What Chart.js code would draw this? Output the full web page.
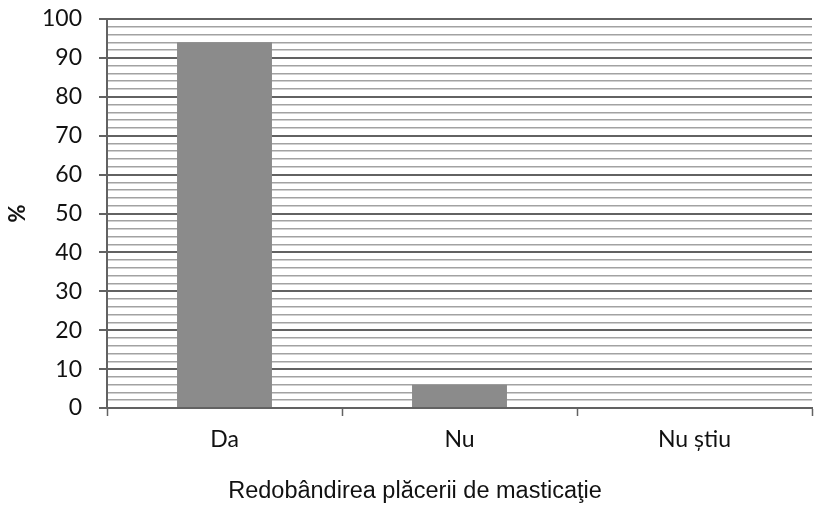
<!DOCTYPE html>
<html>
<head>
<meta charset="utf-8">
<script src="https://cdn.jsdelivr.net/npm/chart.js@4/dist/chart.umd.min.js"></script>
<style>
  html, body { margin: 0; padding: 0; background: #fff; }
  #wrap { width: 815px; height: 506px; }
</style>
</head>
<body>
<div id="wrap"><canvas id="c" width="815" height="506"></canvas></div>
<script>
// Answers to the question about regaining the pleasure of chewing
const categories = ['Da', 'Nu', 'Nu știu'];
const percentValues = [94, 6, 0];
const yTitle = '%';
const xTitle = 'Redobândirea plăcerii de masticaţie';

const majorColor = '#626262';
const minorColor = '#a2a2a2';

new Chart(document.getElementById('c'), {
  type: 'bar',
  data: {
    labels: categories,
    datasets: [{
      data: percentValues,
      backgroundColor: '#8b8b8b',
      borderWidth: 0,
      categoryPercentage: 0.8,
      barPercentage: 0.505
    }]
  },
  options: {
    responsive: false,
    animation: false,
    layout: { padding: { top: 19, right: 3, left: 18, bottom: 0 } },
    plugins: {
      legend: { display: false },
      tooltip: { enabled: false },
      title: {
        display: true,
        position: 'bottom',
        text: xTitle,
        color: '#111',
        padding: { top: 4, bottom: 0 },
        font: { family: 'Liberation Sans', size: 23.5, weight: 'normal', lineHeight: 1.2 }
      }
    },
    scales: {
      x: {
        offset: true,
        grid: {
          offset: true,
          drawOnChartArea: false,
          drawTicks: true,
          tickLength: 8,
          tickColor: majorColor,
          tickWidth: 1.5
        },
        border: { display: true, color: majorColor, width: 2 },
        ticks: {
          color: '#111',
          padding: 10,
          font: { family: 'Lato', size: 23 }
        },
        afterFit: (s) => { s.height = 65.8; }
      },
      y: {
        min: 0,
        max: 100,
        ticks: {
          stepSize: 2,
          autoSkip: false,
          color: '#111',
          padding: 17,
          font: { family: 'Lato', size: 23 },
          callback: (v) => (v % 10 === 0 ? String(v) : '')
        },
        grid: {
          color: (ctx) => (ctx.tick && ctx.tick.value % 10 === 0 ? majorColor : minorColor),
          lineWidth: (ctx) => (ctx.tick && ctx.tick.value % 10 === 0 ? 2 : 1.6),
          tickColor: (ctx) => (ctx.tick && ctx.tick.value % 10 === 0 ? majorColor : 'rgba(0,0,0,0)'),
          tickLength: 8
        },
        border: { display: true, color: majorColor, width: 2 },
        title: {
          display: true,
          text: yTitle,
          color: '#111',
          padding: { top: -13, bottom: 0 },
          font: { family: 'Lato', size: 22, weight: 'bold' }
        },
        afterFit: (s) => {
          s.width = 89;
          s.paddingTop = 0;
          s.paddingBottom = 0;
        }
      }
    }
  }
});
</script>
</body>
</html>
